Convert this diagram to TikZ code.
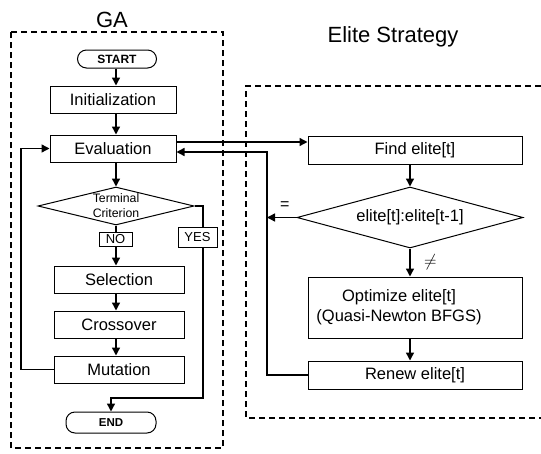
\documentclass[tikz,border=0pt]{standalone}
\usepackage{fontspec}
\setmainfont{Liberation Sans}
\usetikzlibrary{arrows.meta,shapes.geometric}
\tikzset{
  box/.style={rectangle,draw,line width=1pt,font=\fontsize{16.5}{19}\selectfont},
  term/.style={rectangle,draw,line width=1pt,rounded corners=9pt,font=\bfseries\fontsize{12}{14}\selectfont},
  tag/.style={rectangle,draw,line width=0.9pt,fill=white,inner sep=1.5pt,font=\fontsize{13}{15}\selectfont},
  cond/.style={diamond,draw,line width=1pt,inner sep=0pt},
  flow/.style={line width=1.4pt,-{Triangle[length=8pt,width=8pt]}},
  frame/.style={line width=1.8pt,dash pattern=on 6pt off 4pt},
  heading/.style={font=\fontsize{22}{26}\selectfont}
}
\begin{document}
\begin{tikzpicture}[x=1pt,y=-1pt]
						\useasboundingbox (0,0) rectangle (541,453);
						\draw[frame] (11,32) rectangle (223,448);
						\draw[frame] (541,86) -- (246,86) -- (246,418) -- (541,418);
						\node[heading] (ga) at (112,20) {GA};
						\node[heading] (es) at (393,37) {Elite Strategy};
						
						\begin{scope}[every node/.style={box,minimum width=126pt,minimum height=27pt}]
							\node[term,minimum width=79pt,minimum height=18pt] (start) at (117,59) {START};
							\node (init) at (113,99.5) {Initialization};
							\node (eval) at (113,148.5) {Evaluation};
							\node[cond,aspect=4.1,minimum width=156pt,minimum height=38pt,font=\fontsize{12.3}{15}\selectfont,align=center] (crit) at (116,206) {Terminal\\Criterion};
							\node[minimum width=130pt] (sel) at (119,279.5) {Selection};
							\node[minimum width=130pt] (cross) at (119,324.5) {Crossover};
							\node[minimum width=130pt] (mut) at (119,369.5) {Mutation};
							\node[term,minimum width=90pt,minimum height=21pt,font=\bfseries\fontsize{11.5}{13}\selectfont] (end) at (111,422.5) {END};
						\end{scope}
						
						\begin{scope}[every node/.style={box,minimum width=214pt,minimum height=28pt}]
							\node (find) at (415,150) {Find elite[t]};
							\node[cond,aspect=3.7,minimum width=226pt,minimum height=61pt] (cmp) at (410,217.5) {elite[t]:elite[t-1]};
							\node[minimum height=61pt,font=\fontsize{16.5}{20}\selectfont] (opt) at (415,307.5) {\begin{tabular}{@{}c@{\hspace{32pt}}}Optimize elite[t]\\(Quasi-Newton BFGS)\end{tabular}};
							\node (renew) at (415,375) {Renew elite[t]};
						\end{scope}
						
						\coordinate (loopx) at (21,260);
						\coordinate (yesx) at (203,398);
						\coordinate (backx) at (267,260);
						
						\draw[flow] (start.south -| crit.north) -- (crit.north |- init.north);
						\draw[flow] (crit.north |- init.south) -- (crit.north |- eval.north);
						\draw[flow] (crit.north |- eval.south) -- (crit.north);
						\draw[flow] (crit.south) -- (crit.south |- sel.north);
						\draw[flow] (sel.south -| crit.south) -- (crit.south |- cross.north);
						\draw[flow] (cross.south -| crit.south) -- (crit.south |- mut.north);
						\draw[flow] (mut.west) -| (loopx) |- (eval.west);
						\draw[flow] (crit.east) -| (yesx) -| (end.north);
						\node[tag,minimum width=33pt,minimum height=14pt] (no) at (115.5,239) {NO};
						\node[tag,minimum width=39pt,minimum height=20pt] (yes) at (197.5,237) {YES};
						
						\draw[flow] ([yshift=6.5pt]eval.east) -- ([yshift=6.5pt]eval.east -| find.west);
						\draw[flow] (cmp.north |- find.south) -- (cmp.north);
						\draw[flow] (cmp.south) -- node[right=10pt,font=\fontsize{16}{18}\selectfont] (ne) {$\neq$} (cmp.south |- opt.north);
						\draw[flow] (cmp.south |- opt.south) -- (cmp.south |- renew.north);
						\draw[flow] (cmp.west) -- node[above=4pt,pos=0.4,font=\fontsize{16}{18}\selectfont] (eq) {=} (cmp.west -| backx);
						\draw[flow] (renew.west) -| (backx) |- ([yshift=-3.5pt]eval.east);
					\end{tikzpicture}
\end{document}
